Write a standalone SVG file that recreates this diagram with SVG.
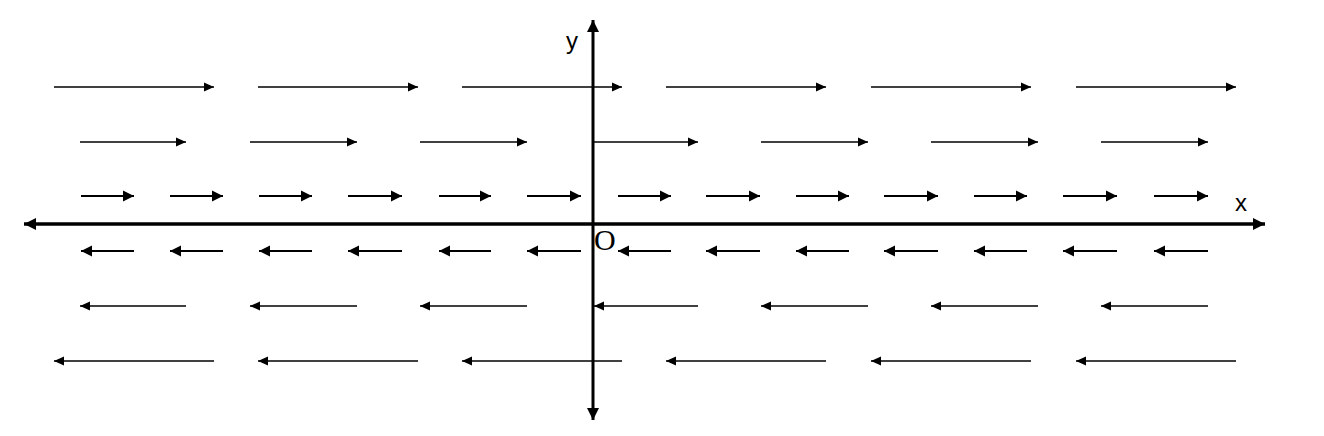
<svg xmlns="http://www.w3.org/2000/svg" width="1324" height="436" viewBox="0 0 1324 436">
<style>
.v{stroke:#000;stroke-width:1.4;fill:none;marker-end:url(#h)}
.s{stroke:#000;stroke-width:2;fill:none;marker-end:url(#hs)}
.ax{stroke:#000;stroke-width:3.5;fill:none;marker-end:url(#H);marker-start:url(#Hs)}
.lbl{font-family:"Liberation Sans",Arial,sans-serif;font-size:24px;fill:#000}
.o{font-family:"Liberation Serif","Times New Roman",serif;font-size:30px;fill:#000}
</style>
<defs>
<marker id="h" markerUnits="userSpaceOnUse" markerWidth="12" markerHeight="10" refX="10" refY="5" orient="auto"><path d="M0,0.5 L10,5 L0,9.5 Z" fill="#000"/></marker>
<marker id="hs" markerUnits="userSpaceOnUse" markerWidth="12" markerHeight="12" refX="11" refY="6" orient="auto"><path d="M0,0.5 L11,6 L0,11.5 Z" fill="#000"/></marker>
<marker id="H" markerUnits="userSpaceOnUse" markerWidth="14" markerHeight="12" refX="12" refY="6" orient="auto"><path d="M0,0 L12,6 L0,12 Z" fill="#000"/></marker>
<marker id="Hs" markerUnits="userSpaceOnUse" markerWidth="14" markerHeight="12" refX="12" refY="6" orient="auto-start-reverse"><path d="M0,0 L12,6 L0,12 Z" fill="#000"/></marker>
</defs>
<rect width="1324" height="436" fill="#fff"/>
<g id="field">
<path class="v" d="M54,87H214"/><path class="v" d="M258,87H418"/><path class="v" d="M462,87H622"/><path class="v" d="M666,87H826"/><path class="v" d="M871,87H1031"/><path class="v" d="M1076,87H1236"/>
<path class="v" d="M80,142H186"/><path class="v" d="M250,142H357"/><path class="v" d="M420,142H527"/><path class="v" d="M594,142H698"/><path class="v" d="M761,142H868"/><path class="v" d="M931,142H1038"/><path class="v" d="M1101,142H1208"/>
<path class="s" d="M81,196H134"/><path class="s" d="M170,196H223"/><path class="s" d="M259,196H312"/><path class="s" d="M348,196H402"/><path class="s" d="M439,196H491"/><path class="s" d="M527,196H581"/><path class="s" d="M618,196H671"/><path class="s" d="M706,196H760"/><path class="s" d="M796,196H849"/><path class="s" d="M884,196H938"/><path class="s" d="M974,196H1027"/><path class="s" d="M1063,196H1117"/><path class="s" d="M1154,196H1208"/>
<path class="s" d="M134,251H81"/><path class="s" d="M223,251H170"/><path class="s" d="M312,251H259"/><path class="s" d="M402,251H348"/><path class="s" d="M491,251H439"/><path class="s" d="M581,251H527"/><path class="s" d="M671,251H618"/><path class="s" d="M760,251H706"/><path class="s" d="M849,251H796"/><path class="s" d="M938,251H884"/><path class="s" d="M1027,251H974"/><path class="s" d="M1117,251H1063"/><path class="s" d="M1208,251H1154"/>
<path class="v" d="M186,306H80"/><path class="v" d="M357,306H250"/><path class="v" d="M527,306H420"/><path class="v" d="M698,306H594"/><path class="v" d="M868,306H761"/><path class="v" d="M1038,306H931"/><path class="v" d="M1208,306H1101"/>
<path class="v" d="M214,361H54"/><path class="v" d="M418,361H258"/><path class="v" d="M622,361H462"/><path class="v" d="M826,361H666"/><path class="v" d="M1031,361H871"/><path class="v" d="M1236,361H1076"/>
</g>
<g id="axes">
<path class="ax" d="M24,224H1265"/>
<path class="ax" d="M593,420V20" style="stroke-width:3"/>
</g>
<text class="lbl" x="566" y="49">y</text>
<text class="lbl" x="1235" y="211">x</text>
<text class="o" x="594" y="250">O</text>
</svg>
